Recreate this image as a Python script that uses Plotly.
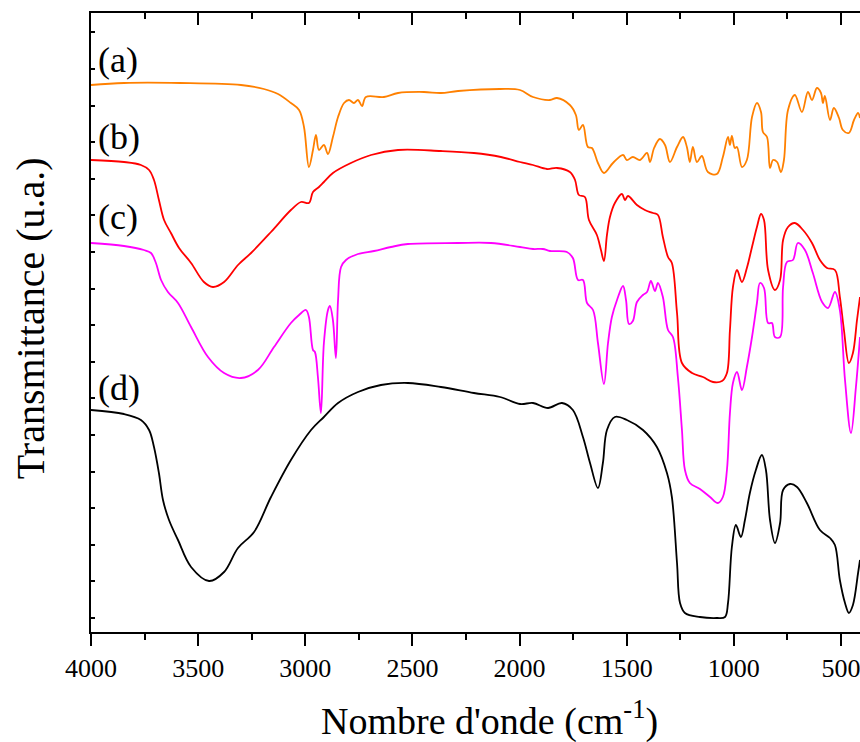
import plotly.graph_objects as go

# Wavenumbers (cm-1) and transmittance (arbitrary units)
wn_a = [4000, 3846, 3585, 3300, 3193, 3127, 3067, 3029, 3006, 2983, 2964, 2950, 2936, 2913, 2894, 2871,
        2847, 2819, 2796, 2773, 2754, 2735, 2717, 2633, 2567, 2446, 2367, 2287, 2091, 1998, 1937, 1858,
        1825, 1765, 1737, 1723, 1704, 1681, 1662, 1634, 1606, 1564, 1517, 1499, 1471, 1438, 1405, 1391,
        1372, 1345, 1321, 1298, 1265, 1237, 1219, 1205, 1191, 1172, 1149, 1121, 1079, 1051, 1027, 1018,
        1009, 995, 985, 962, 939, 915, 892, 873, 864, 845, 831, 817, 798, 780, 766, 747, 715, 682, 654,
        635, 612, 593, 584, 575, 551, 533, 509, 491, 463, 439, 420, 411]
t_a = [547, 549, 549, 547, 543, 538, 529, 522, 505, 465, 482, 497, 482, 487, 478, 495,
       515, 529, 532, 529, 532, 526, 535, 535, 539, 540, 539, 541, 543, 542, 535, 532,
       534, 527, 517, 502, 507, 485, 484, 469, 459, 469, 477, 472, 475, 472, 479, 470,
       484, 493, 487, 470, 485, 495, 485, 470, 485, 470, 476, 460, 458, 475, 495, 487,
       496, 484, 485, 465, 472, 515, 529, 520, 500, 495, 464, 472, 470, 460, 472, 522, 537, 520, 540,
       532, 544, 539, 529, 536, 512, 524, 514, 502, 499, 512, 519, 514]

wn_b = [4000, 3846, 3767, 3729, 3706, 3683, 3659, 3627, 3589, 3533, 3473, 3431, 3379, 3314, 3253, 3160,
        3067, 3020, 2983, 2964, 2936, 2913, 2871, 2787, 2693, 2567, 2367, 2213, 2087, 1998, 1937, 1872,
        1825, 1765, 1741, 1723, 1695, 1676, 1639, 1620, 1606, 1592, 1578, 1555, 1522, 1508, 1494, 1452,
        1415, 1377, 1354, 1331, 1307, 1289, 1265, 1242, 1195, 1144, 1097, 1055, 1032, 1018, 1004, 985,
        962, 939, 915, 892, 873, 859, 840, 808, 784, 770, 747, 715, 677, 635, 598, 565, 528, 505, 486,
        463, 444, 425, 411]
t_b = [472, 470, 467, 462, 452, 432, 412, 399, 384, 369, 350, 345, 350, 367, 379, 400,
       422, 430, 429, 440, 445, 450, 459, 469, 477, 482, 481, 479, 475, 470, 467, 463,
       464, 460, 452, 437, 435, 412, 397, 382, 371, 397, 415, 429, 438, 432, 436, 427,
       422, 419, 417, 395, 375, 369, 319, 269, 259, 255, 250, 251, 259, 302, 345, 362,
       350, 364, 385, 405, 418, 412, 362, 342, 352, 392, 405, 409, 402, 389, 372, 364, 362, 335, 302,
       269, 279, 312, 335]

wn_c = [4000, 3846, 3753, 3720, 3697, 3673, 3641, 3594, 3533, 3454, 3379, 3300, 3221, 3146, 3067, 3029,
        2997, 2983, 2964, 2955, 2941, 2927, 2913, 2894, 2885, 2871, 2857, 2847, 2833, 2810, 2754, 2679,
        2600, 2521, 2287, 2133, 1998, 1937, 1891, 1858, 1779, 1751, 1727, 1704, 1685, 1657, 1634, 1606,
        1587, 1569, 1545, 1517, 1503, 1489, 1471, 1452, 1424, 1405, 1387, 1368, 1354, 1331, 1307, 1284,
        1261, 1242, 1228, 1205, 1158, 1111, 1074, 1051, 1032, 1018, 1004, 985, 962, 939, 915, 892, 878,
        859, 840, 822, 808, 784, 770, 752, 724, 701, 668, 631, 588, 560, 528, 505, 481, 453, 430, 411]
t_c = [389, 386, 382, 379, 369, 352, 340, 329, 305, 275, 259, 254, 262, 285, 309, 317,
       322, 315, 282, 280, 255, 219, 289, 322, 326, 312, 274, 332, 365, 372, 378, 381,
       385, 388, 389, 389, 385, 383, 383, 381, 380, 374, 352, 352, 329, 322, 289, 248,
       289, 315, 332, 346, 332, 308, 311, 330, 337, 340, 351, 341, 349, 335, 302, 295,
       255, 202, 162, 149, 143, 135, 129, 135, 162, 219, 249, 260, 242, 265, 295, 329, 349,
       344, 309, 309, 295, 295, 345, 370, 372, 389, 382, 359, 330, 324, 340, 322, 252, 199, 245, 295]

wn_d = [4000, 3846, 3767, 3729, 3706, 3683, 3664, 3636, 3594, 3533, 3449, 3379, 3314, 3239, 3160, 3067,
        2973, 2913, 2847, 2754, 2647, 2521, 2367, 2213, 2091, 1998, 1937, 1867, 1802, 1751, 1704, 1671,
        1634, 1611, 1592, 1555, 1499, 1424, 1359, 1312, 1289, 1265, 1251, 1228, 1158, 1079, 1041, 1027,
        1009, 990, 967, 948, 925, 897, 869, 850, 831, 808, 784, 770, 738, 705, 659, 598, 551, 528, 505,
        481, 463, 444, 420, 411]
t_d = [222, 218, 212, 202, 185, 159, 132, 112, 92, 65, 51, 60, 84, 100, 135, 172,
       202, 215, 229, 240, 247, 249, 245, 239, 235, 228, 229, 224, 229, 222, 195, 169,
       144, 169, 202, 215, 212, 202, 185, 159, 135, 69, 29, 19, 15, 14, 15, 29,
       85, 107, 95, 112, 139, 162, 177, 162, 112, 89, 109, 142, 148, 145, 129, 102, 94, 87, 52,
       29, 19, 27, 59, 72]

labels = ["(a)", "(b)", "(c)", "(d)"]
label_y = [572, 495, 415, 244]
colors = ["#FF8000", "#FF0000", "#FF00FF", "#000000"]

x_ticks = [4000, 3500, 3000, 2500, 2000, 1500, 1000, 500]
x_range = [4000, 411]
y_range = [0, 619]

FONT = "Liberation Serif"

fig = go.Figure()
for wn, t, c in zip([wn_a, wn_b, wn_c, wn_d], [t_a, t_b, t_c, t_d], colors):
    fig.add_trace(go.Scatter(x=wn, y=t, mode="lines", line=dict(color=c, width=1.8),
                             line_shape="spline", showlegend=False, hoverinfo="skip"))

# trace attached to the top (mirror) axis
fig.add_trace(go.Scatter(x=[4000, 411], y=[0, 0], xaxis="x2", mode="lines",
                         line=dict(width=0, color="rgba(0,0,0,0)"), showlegend=False, hoverinfo="skip"))

for lab, ly in zip(labels, label_y):
    fig.add_annotation(x=3975, y=ly, text=lab, showarrow=False, xanchor="left", yanchor="middle",
                       font=dict(family=FONT, size=36, color="black"))

# axis titles as annotations for precise placement
fig.add_annotation(xref="paper", yref="paper", x=0.5176, y=-0.139, text="Nombre d'onde (cm<sup>-1</sup>)",
                   showarrow=False, xanchor="center", yanchor="middle",
                   font=dict(family=FONT, size=38, color="black"))
fig.add_annotation(xref="paper", yref="paper", x=-0.0793, y=0.507, text="Transmittance (u.a.)",
                   showarrow=False, xanchor="center", yanchor="middle", textangle=-90,
                   font=dict(family=FONT, size=40, color="black"))

fig.update_layout(
    width=860, height=742,
    margin=dict(l=91, r=0, t=13, b=110),
    plot_bgcolor="white", paper_bgcolor="white",
    font=dict(family=FONT, color="black"),
    xaxis=dict(range=x_range, tickvals=x_ticks, ticks="outside", ticklen=12, tickwidth=2,
               tickcolor="black", showline=True, linecolor="black", linewidth=2, automargin=False,
               showgrid=False, zeroline=False, tickfont=dict(family=FONT, size=26, color="black"),
               ticklabeloverflow="allow",
               minor=dict(ticks="outside", ticklen=6, tickwidth=2, dtick=250, tick0=0, tickcolor="black")),
    xaxis2=dict(range=x_range, overlaying="x", side="top", tickvals=x_ticks, ticks="inside", ticklen=12,
                tickwidth=2, tickcolor="black", showline=True, linecolor="black", linewidth=2,
                showticklabels=False, showgrid=False, zeroline=False, automargin=False,
                minor=dict(ticks="inside", ticklen=6, tickwidth=2, dtick=250, tick0=0, tickcolor="black")),
    yaxis=dict(range=y_range, showline=True, linecolor="black", linewidth=2, ticks="inside", ticklen=4,
               tickwidth=1.5, tickcolor="black", tick0=14, dtick=36.6, showticklabels=False,
               showgrid=False, zeroline=False, automargin=False),
)

# remove the default page margin so the 860x742 figure fills the window exactly
fig.write_html("out.html", config={"displayModeBar": False},
               post_script="document.body.style.margin='0';document.body.style.overflow='hidden';")
